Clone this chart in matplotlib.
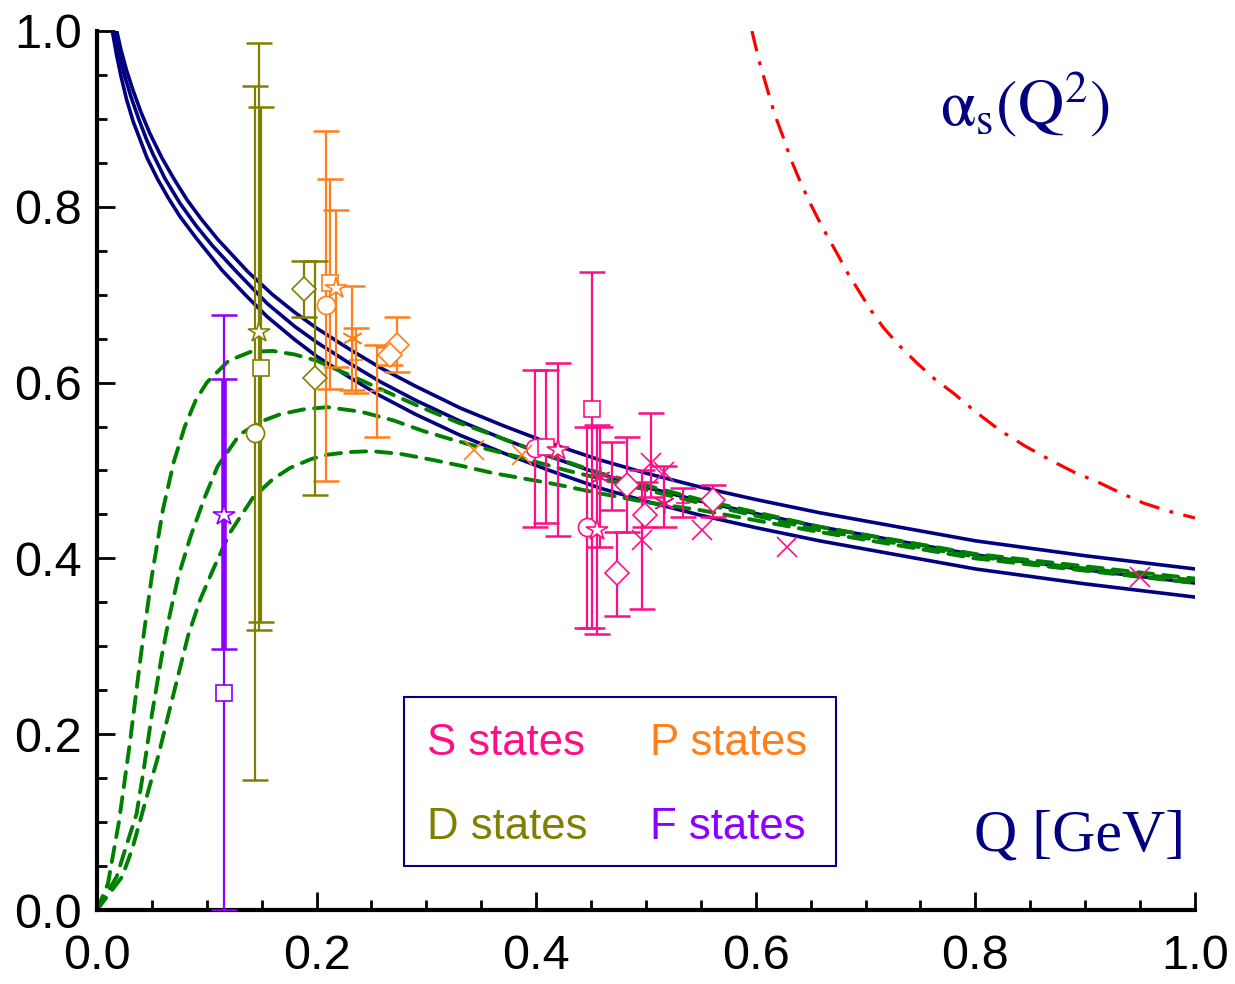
import matplotlib
matplotlib.use("Agg")
import matplotlib.pyplot as plt
from matplotlib import font_manager
from matplotlib.patches import Rectangle
from matplotlib.ticker import MultipleLocator

# running coupling curves
blue_up_q = [0.018, 0.022, 0.027, 0.033, 0.040, 0.048, 0.059, 0.070, 0.082,
             0.095, 0.110, 0.1375, 0.16, 0.18, 0.20, 0.23, 0.258, 0.29, 0.331,
             0.37, 0.41, 0.458, 0.50, 0.55, 0.60, 0.658, 0.72, 0.80, 0.90, 1.0]
blue_up_a = [1.0, 0.978, 0.955, 0.932, 0.908, 0.884, 0.856, 0.832, 0.808,
             0.786, 0.763, 0.726, 0.700, 0.680, 0.662, 0.638, 0.617, 0.596,
             0.571, 0.551, 0.532, 0.512, 0.497, 0.481, 0.467, 0.452, 0.438,
             0.420, 0.403, 0.388]
blue_mid_q = [0.016, 0.020, 0.025, 0.031, 0.038, 0.045, 0.051, 0.062, 0.0756,
              0.090, 0.105, 0.1257, 0.155, 0.18, 0.20, 0.23, 0.258, 0.29, 0.331,
              0.37, 0.41, 0.458, 0.50, 0.55, 0.60, 0.658, 0.72, 0.80, 0.90, 1.0]
blue_mid_a = [1.0, 0.975, 0.950, 0.925, 0.900, 0.877, 0.860, 0.832, 0.804,
              0.779, 0.756, 0.728, 0.690, 0.664, 0.646, 0.622, 0.601, 0.580,
              0.556, 0.536, 0.517, 0.496, 0.481, 0.465, 0.451, 0.436, 0.422,
              0.404, 0.387, 0.372]
blue_lo_q = [0.014, 0.018, 0.022, 0.027, 0.033, 0.0455, 0.055, 0.065, 0.0756,
             0.090, 0.1138, 0.135, 0.155, 0.18, 0.20, 0.23, 0.258, 0.29, 0.331,
             0.37, 0.41, 0.458, 0.50, 0.55, 0.60, 0.658, 0.72, 0.80, 0.90, 1.0]
blue_lo_a = [1.0, 0.972, 0.948, 0.922, 0.897, 0.856, 0.832, 0.810, 0.789,
             0.765, 0.728, 0.700, 0.675, 0.649, 0.630, 0.606, 0.585, 0.564,
             0.540, 0.520, 0.501, 0.480, 0.465, 0.449, 0.435, 0.420, 0.406,
             0.388, 0.371, 0.356]

green_1_q = [0.0, 0.01, 0.02, 0.03, 0.04, 0.05, 0.06, 0.07, 0.08, 0.09, 0.10,
             0.12, 0.14, 0.16, 0.18, 0.20, 0.24, 0.27, 0.297, 0.328, 0.355,
             0.40, 0.458, 0.549, 0.658, 0.80, 1.0]
green_1_a = [0.0, 0.03, 0.10, 0.19, 0.29, 0.38, 0.455, 0.51, 0.55, 0.58, 0.60,
             0.625, 0.635, 0.636, 0.632, 0.625, 0.603, 0.586, 0.571, 0.555,
             0.543, 0.522, 0.497, 0.467, 0.436, 0.405, 0.377]
green_2_q = [0.0, 0.018, 0.027, 0.036, 0.042, 0.05, 0.059, 0.066, 0.074, 0.085,
             0.098, 0.11, 0.13, 0.15, 0.167, 0.19, 0.21, 0.24, 0.27, 0.297,
             0.324, 0.35, 0.379, 0.428, 0.458, 0.549, 0.658, 0.80, 1.0]
green_2_a = [0.0, 0.038, 0.074, 0.109, 0.155, 0.222, 0.289, 0.334, 0.379, 0.424,
             0.469, 0.505, 0.541, 0.556, 0.564, 0.570, 0.572, 0.567, 0.557,
             0.545, 0.535, 0.526, 0.517, 0.500, 0.491, 0.463, 0.432, 0.402,
             0.375]
green_3_q = [0.0, 0.023, 0.032, 0.039, 0.048, 0.056, 0.065, 0.074, 0.083, 0.094,
             0.106, 0.121, 0.142, 0.16, 0.176, 0.195, 0.21, 0.23, 0.25, 0.276,
             0.306, 0.333, 0.361, 0.388, 0.415, 0.458, 0.50, 0.549, 0.658, 0.80,
             1.0]
green_3_a = [0.0, 0.038, 0.069, 0.10, 0.141, 0.176, 0.222, 0.267, 0.312, 0.353,
             0.388, 0.429, 0.469, 0.490, 0.503, 0.513, 0.518, 0.521, 0.522,
             0.519, 0.512, 0.505, 0.497, 0.491, 0.485, 0.474, 0.464, 0.455,
             0.430, 0.400, 0.372]

red_q = [0.5965, 0.603, 0.610, 0.617, 0.625, 0.632, 0.640, 0.648, 0.656, 0.665,
         0.674, 0.684, 0.695, 0.705, 0.716, 0.730, 0.747, 0.763, 0.780, 0.80,
         0.822, 0.845, 0.868, 0.89, 0.913, 0.933, 0.953, 0.975, 1.0]
red_a = [1.0, 0.966, 0.936, 0.906, 0.879, 0.854, 0.830, 0.808, 0.788, 0.767,
         0.747, 0.724, 0.702, 0.682, 0.663, 0.643, 0.622, 0.604, 0.588, 0.567,
         0.546, 0.528, 0.512, 0.498, 0.486, 0.474, 0.463, 0.454, 0.446]

# S states
s_q = [0.399, 0.409, 0.420, 0.451, 0.446, 0.455, 0.458, 0.469, 0.483, 0.4735,
       0.505, 0.496, 0.499, 0.516, 0.516, 0.534, 0.561, 0.551, 0.628, 0.95]
s_a = [0.526, 0.527, 0.523, 0.570, 0.436, 0.432, 0.493, 0.493, 0.484, 0.383,
       0.508, 0.421, 0.449, 0.498, 0.463, 0.463, 0.466, 0.432, 0.413, 0.379]
s_lo = [0.436, 0.440, 0.425, 0.321, 0.321, 0.314, 0.413, 0.455, 0.430, 0.334,
        0.470, 0.343, 0.436, None, 0.436, 0.447, 0.447, None, None, None]
s_hi = [0.614, 0.614, 0.622, 0.726, 0.550, 0.552, 0.550, 0.532, 0.538, 0.430,
        0.565, 0.500, 0.487, None, 0.505, 0.480, 0.483, None, None, None]
s_mk = ["o", "s", "*", "s", "o", "*", "ast", "_", "D", "D",
        "x", "x", "D", "x", "ast", "_", "D", "x", "x", "x"]

# P states
p_q = [0.2085, 0.212, 0.218, 0.232, 0.236, 0.255, 0.273, 0.267, 0.343, 0.387]
p_a = [0.688, 0.713, 0.708, 0.651, 0.626, 0.590, 0.643, 0.631, 0.523, 0.518]
p_lo = [0.488, 0.593, 0.618, 0.592, 0.588, 0.538, 0.612, 0.620, None, None]
p_hi = [0.886, 0.832, 0.796, 0.710, 0.662, 0.643, 0.675, 0.640, None, None]
p_mk = ["o", "s", "*", "ast", "_", "_", "D", "D", "x", "x"]

# D states
d_q = [0.144, 0.149, 0.148, 0.189, 0.199]
d_a = [0.543, 0.617, 0.658, 0.706, 0.605]
d_lo = [0.148, 0.328, 0.319, 0.675, 0.472]
d_hi = [0.937, 0.914, 0.986, 0.738, 0.738]
d_mk = ["o", "s", "*", "D", "D"]

# F states
f_q = [0.1157, 0.1157]
f_a = [0.449, 0.247]
f_lo = [0.297, 0.0]
f_hi = [0.604, 0.677]
f_mk = ["*", "s"]
f_elw = [4.0, 1.6]

NAVY = "#000080"
PINK = "#FF0F87"
ORANGE = "#FF7F1A"
OLIVE = "#808000"
VIOLET = "#8B00FF"

MARKER_SIZE = {"o": 13, "s": 12, "*": 16, "D": 12, "x": 14, "ast": 15, "_": 10}

try:
    font_manager.findfont("Liberation Sans Narrow", fallback_to_default=False)
    TICK_FONT, TICK_SIZE = "Liberation Sans Narrow", 38
except ValueError:
    TICK_FONT, TICK_SIZE = "Liberation Sans", 35


def _draw_points(ax, qs, alphas, los, his, marks, color, elws=None):
    for i in range(len(qs)):
        mk = marks[i]
        marker = (6, 2, 0) if mk == "ast" else mk
        yerr = None
        if los[i] is not None:
            yerr = [[alphas[i] - los[i]], [his[i] - alphas[i]]]
        elw = elws[i] if elws else 1.6
        ax.errorbar(
            [qs[i]], [alphas[i]], yerr=yerr,
            fmt="none", ecolor=color, elinewidth=elw,
            capsize=9.5, capthick=1.8, zorder=3,
        )
        hollow = mk in ("o", "s", "*", "D")
        ax.plot(
            [qs[i]], [alphas[i]], linestyle="none", marker=marker,
            markersize=MARKER_SIZE[mk],
            markerfacecolor="white" if hollow else color,
            markeredgecolor=color, markeredgewidth=1.2, zorder=4,
        )


fig = plt.figure(figsize=(12.35, 9.84), dpi=100)
ax = fig.add_axes([0.0785, 0.0752, 0.8891, 0.8933])

for q, a in [(blue_up_q, blue_up_a), (blue_mid_q, blue_mid_a),
             (blue_lo_q, blue_lo_a)]:
    ax.plot(q, a, color=NAVY, linewidth=2.6, zorder=2,
            solid_joinstyle="round")

for q, a in [(green_1_q, green_1_a), (green_2_q, green_2_a),
             (green_3_q, green_3_a)]:
    ax.plot(q, a, color="#008000", linewidth=2.8, dashes=(3.9, 2.6),
            dash_capstyle="round", zorder=2)

ax.plot(red_q, red_a, color="#FF0000", linewidth=2.3,
        dashes=(6.5, 3.3, 1.2, 3.3), zorder=2)

_draw_points(ax, s_q, s_a, s_lo, s_hi, s_mk, PINK)
_draw_points(ax, p_q, p_a, p_lo, p_hi, p_mk, ORANGE)
_draw_points(ax, d_q, d_a, d_lo, d_hi, d_mk, OLIVE)
_draw_points(ax, f_q, f_a, f_lo, f_hi, f_mk, VIOLET, f_elw)

# legend box drawn by hand
ax.add_patch(Rectangle((0.2796, 0.050), 0.3934, 0.1923, fill=False,
                       edgecolor=NAVY, linewidth=1.5, zorder=5))
leg_font = dict(family="Liberation Sans", fontsize=31.5, va="baseline",
                zorder=6)
ax.text(0.3005, 0.176, "S states", color=PINK, **leg_font)
ax.text(0.5036, 0.176, "P states", color=ORANGE, **leg_font)
ax.text(0.3005, 0.081, "D states", color=OLIVE, **leg_font)
ax.text(0.5036, 0.081, "F states", color=VIOLET, **leg_font)

plt.rcParams["mathtext.fontset"] = "stix"
ax.text(0.768, 0.893, r"$\mathrm{\alpha_s(Q^2)}$", color=NAVY, fontsize=46,
        va="baseline")
ax.text(0.991, 0.068, "Q [GeV]", color=NAVY, fontsize=43, ha="right",
        va="baseline", family="Liberation Serif")

ax.set_xlim(0, 1.0)
ax.set_ylim(0, 1.0)
for side in ["top", "right"]:
    ax.spines[side].set_visible(False)
for side in ["left", "bottom"]:
    ax.spines[side].set_linewidth(3)
ax.xaxis.set_major_locator(MultipleLocator(0.2))
ax.xaxis.set_minor_locator(MultipleLocator(0.05))
ax.yaxis.set_major_locator(MultipleLocator(0.2))
ax.yaxis.set_minor_locator(MultipleLocator(0.05))
ax.tick_params(which="major", direction="in", length=13, width=2,
               labelsize=TICK_SIZE)
ax.tick_params(which="minor", direction="in", length=7.5, width=2)
ax.tick_params(axis="x", which="major", pad=17)
ax.tick_params(axis="y", which="major", pad=11)
ticks = [0.0, 0.2, 0.4, 0.6, 0.8, 1.0]
tick_labels = ["0.0", "0.2", "0.4", "0.6", "0.8", "1.0"]
ax.set_xticks(ticks, labels=tick_labels)
ax.set_yticks(ticks, labels=tick_labels)
for lab in ax.get_xticklabels() + ax.get_yticklabels():
    lab.set_family(TICK_FONT)

fig.savefig("out.png", dpi=100)
